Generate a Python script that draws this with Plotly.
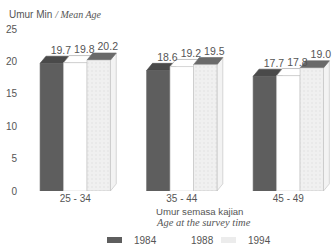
import plotly.graph_objects as go

# ---- data ----
categories = ["25 - 34", "35 - 44", "45 - 49"]
series_names = ["1984", "1988", "1994"]
values_1984 = [19.7, 18.6, 17.7]
values_1988 = [19.8, 19.2, 17.8]
values_1994 = [20.2, 19.5, 19.0]
y_ticks = [0, 5, 10, 15, 20, 25]

series_values = [values_1984, values_1988, values_1994]

# ---- style ----
FONT = "Liberation Sans, Arial, sans-serif"
SERIF = "Liberation Serif, Times New Roman, serif"
TXT = "#555555"
front_colors = ["#5e5e5e", "#ffffff", "#ececec"]
top_colors = ["#4a4a4a", "#ffffff", "#6a6a6a"]
side_colors = ["#4a4a4a", "#f6f6f6", "#f3f3f3"]
line_colors = ["#5e5e5e", "#d0d0d0", "#bdbdbd"]

W, H = 332, 245
ML, MR, MT, MB = 22, 0, 29, 54
bargap = 0.34
n = len(series_names)
bw = (1 - bargap) / n
dx = 0.055   # depth in x units
dy = 1.1     # depth in y units

positions = list(range(len(categories)))

fig = go.Figure()
for i, (name, vals) in enumerate(zip(series_names, series_values)):
    marker = dict(color=front_colors[i], line=dict(color=line_colors[i], width=0.6))
    if i == 2:
        marker["pattern"] = dict(shape=".", fgcolor="#dddddd", bgcolor="#f0f0f0", size=4, solidity=0.2)
    fig.add_trace(go.Bar(x=positions, y=vals, name=name, marker=marker,
                         showlegend=False, hoverinfo="skip"))

shapes = []
label_x, label_y, label_t = [], [], []
for i, vals in enumerate(series_values):
    off = (i - (n - 1) / 2) * bw
    for p, v in zip(positions, vals):
        l = p + off - bw / 2
        r = p + off + bw / 2
        # side face
        shapes.append(dict(type="path", xref="x", yref="y", layer="below",
                           path=f"M{r},{0} L{r+dx},{dy} L{r+dx},{v+dy} L{r},{v} Z",
                           fillcolor=side_colors[i], line=dict(color=line_colors[i], width=0.6)))
        # top face
        shapes.append(dict(type="path", xref="x", yref="y", layer="below",
                           path=f"M{l},{v} L{r},{v} L{r+dx},{v+dy} L{l+dx},{v+dy} Z",
                           fillcolor=top_colors[i], line=dict(color="#999999" if i == 1 else top_colors[i], width=0.6)))
        label_x.append(p + off + dx + 0.03)
        label_y.append(v + dy)
        label_t.append(f"{v:.1f}")

fig.add_trace(go.Scatter(x=label_x, y=label_y, text=label_t, mode="text",
                         textposition="top center", showlegend=False, hoverinfo="skip",
                         textfont=dict(family=FONT, size=10.5, color=TXT), cliponaxis=False))

# ---- manual legend (pixel -> paper) ----
pw = W - ML - MR
ph = H - MT - MB
def px(xp):
    return (xp - ML) / pw
def py(yp):
    return (H - MB - yp) / ph

annotations = []
sw_x = [107, 164, 221]
leg_y = 240
for i, name in enumerate(series_names):
    shapes.append(dict(type="rect", xref="paper", yref="paper",
                       x0=px(sw_x[i]), x1=px(sw_x[i] + 15), y0=py(leg_y + 3), y1=py(leg_y - 3),
                       fillcolor=front_colors[i], line=dict(width=0)))
    annotations.append(dict(x=px(sw_x[i] + 25), y=py(leg_y), xref="paper", yref="paper",
                            text=name, showarrow=False, xanchor="left", yanchor="middle",
                            font=dict(family=FONT, size=10, color=TXT)))

# title
annotations.append(dict(x=px(7), y=py(14), xref="paper", yref="paper", showarrow=False,
                        xanchor="left", yanchor="middle",
                        text=f"Umur Min <span style='font-family:{SERIF};font-style:italic'>/ Mean Age</span>",
                        font=dict(family=FONT, size=10, color=TXT)))
# x axis title
annotations.append(dict(x=px(154), y=py(212), xref="paper", yref="paper", showarrow=False,
                        xanchor="left", yanchor="middle", text="Umur semasa kajian",
                        font=dict(family=FONT, size=9.6, color=TXT)))
annotations.append(dict(x=px(154), y=py(222.5), xref="paper", yref="paper", showarrow=False,
                        xanchor="left", yanchor="middle", text="<i>Age at the survey time</i>",
                        font=dict(family=SERIF, size=10.5, color=TXT)))

fig.update_layout(
    width=W, height=H,
    margin=dict(l=ML, r=MR, t=MT, b=MB, pad=0),
    paper_bgcolor="white", plot_bgcolor="white",
    barmode="group", bargap=bargap, bargroupgap=0,
    shapes=shapes, annotations=annotations,
    showlegend=False,
    xaxis=dict(range=[-0.5, 2.41], tickvals=positions, ticktext=categories,
               showgrid=False, zeroline=False, showline=False, ticks="",
               tickfont=dict(family=FONT, size=10, color=TXT), fixedrange=True),
    yaxis=dict(range=[0, 25], tickvals=y_ticks, showgrid=False, zeroline=False,
               showline=False, ticks="", ticklabelstandoff=4,
               tickfont=dict(family=FONT, size=10, color=TXT), fixedrange=True),
)

fig.write_html("out.html", config={"displayModeBar": False},
               post_script="document.body.style.margin='0';document.body.style.overflow='hidden';")
